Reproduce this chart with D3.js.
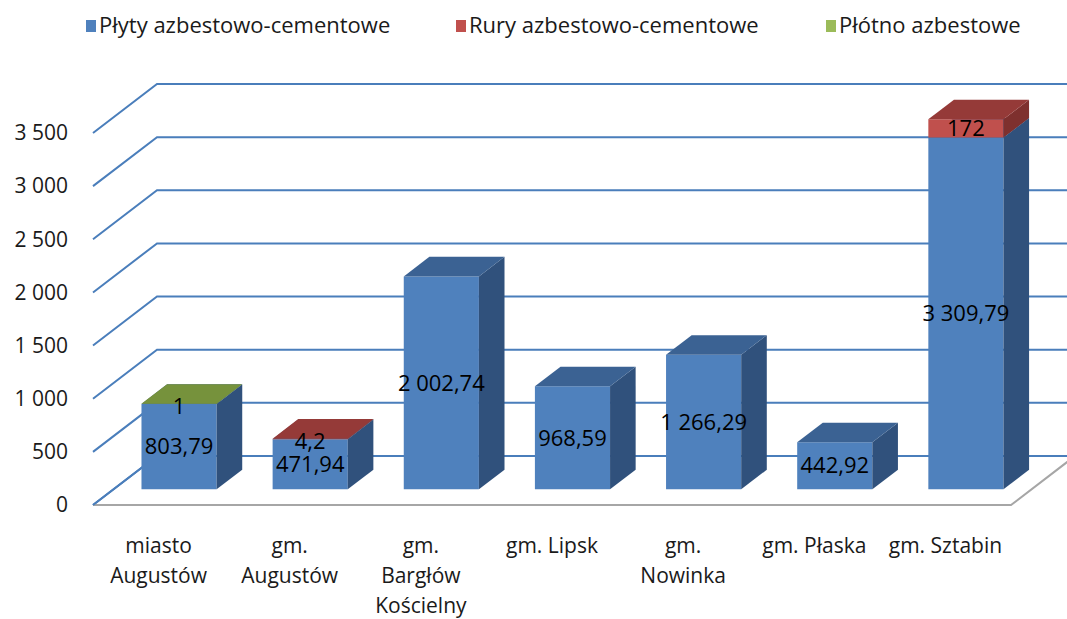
<!DOCTYPE html>
<meta charset="utf-8">
<title>Azbest - gminy</title>
<style>
  body { margin: 0; background: #fff; }
  svg { display: block; font-family: "Open Sans", sans-serif; }
  .grid { stroke: #4a7ebb; stroke-width: 2px; fill: none; }
  .floor { stroke: #a6a6a6; stroke-width: 2px; fill: none; }
  .tick { font-size: 21px; fill: #1a1a1a; }
  .cat { font-size: 21px; fill: #1a1a1a; }
  .lbl { font-size: 22px; fill: #000; }
  .legend text { font-size: 22px; fill: #1a1a1a; }
</style>
<body>
<svg width="1067" height="619"></svg>
<script src="https://d3js.org/d3.v7.min.js"></script>
<script>

// categories (\n = line break in axis label)
var categories = ["miasto\nAugustów", "gm.\nAugustów", "gm.\nBargłów\nKościelny", "gm. Lipsk", "gm.\nNowinka", "gm. Płaska", "gm. Sztabin"];
var seriesNames = ["Płyty azbestowo-cementowe", "Rury azbestowo-cementowe", "Płótno azbestowe"];
var plyty = [803.79, 471.94, 2002.74, 968.59, 1266.29, 442.92, 3309.79];
var rury = [0, 4.2, 0, 0, 0, 0, 172];
var plotno = [1, 0, 0, 0, 0, 0, 0];
var yTicks = [0, 500, 1000, 1500, 2000, 2500, 3000, 3500];

// front / side / top colours per series
var colFront = ["#4f81bd", "#c0504d", "#9bbb59"];
var colSide = ["#30517c", "#7e302e", "#5f7632"];
var colTop = ["#3b6293", "#953a38", "#76923c"];

var svg = d3.select("svg");

var pl = d3.formatLocale({decimal: ",", thousands: " ", grouping: [3], currency: ["", ""]});
var fmtLbl = pl.format(",.2~f");
var fmtTick = pl.format(",d");

// oblique 3D: depth 0 = front edge of floor, 1 = back wall
var DX = 64, DY = 49;

var x = d3.scaleBand()
  .domain(categories)
  .range([93, 1011])
  .paddingInner(0.427)
  .paddingOuter(0.2135);

var y = d3.scaleLinear()
  .domain([0, 3500])
  .range([505, 133]);

// gridlines: diagonal on the left wall then along the back wall
svg.append("g").selectAll("path")
  .data(yTicks)
  .enter().append("path")
  .attr("class", "grid")
  .attr("d", function (v) {
    var y0 = y(v);
    return "M" + x.range()[0] + "," + y0 + "L" + (x.range()[0] + DX) + "," + (y0 - DY) +
      "L" + (x.range()[1] + DX) + "," + (y0 - DY);
  });

// floor front edge and right edge
var yf = y(0);
svg.append("path")
  .attr("class", "floor")
  .attr("d", "M" + x.range()[0] + "," + yf + "L" + x.range()[1] + "," + yf +
    "L" + (x.range()[1] + DX) + "," + (yf - DY));
svg.append("path")
  .attr("class", "grid")
  .attr("d", "M" + x.range()[0] + "," + yf + "L" + (x.range()[0] + DX) + "," + (yf - DY));

// y axis labels
svg.append("g").selectAll("text")
  .data(yTicks)
  .enter().append("text")
  .attr("class", "tick")
  .attr("x", 68)
  .attr("y", function (v) { return y(v); })
  .attr("dy", "0.35em")
  .attr("text-anchor", "end")
  .text(function (v) { return fmtTick(v); });

// stacked data
var stack = d3.stack().keys([0, 1, 2]);
var rows = categories.map(function (c, i) { return {cat: c, 0: plyty[i], 1: rury[i], 2: plotno[i]}; });
var layers = stack(rows);

var f0 = 0.32, f1 = 0.72;
var ox = DX * f0, oy = DY * f0;
var bdx = DX * (f1 - f0), bdy = DY * (f1 - f0);

function poly(pts) { return pts.map(function (p) { return p.join(","); }).join(" "); }

var bars = svg.append("g");
var labels = svg.append("g");

categories.forEach(function (c, i) {
  var xl = x(c) + ox, xr = xl + x.bandwidth();
  layers.forEach(function (layer, k) {
    var d = layer[i];
    if (d[1] - d[0] <= 0) return;
    var yb = y(d[0]) - oy, yt = y(d[1]) - oy;
    var g = bars.append("g");
    g.append("polygon").attr("points", poly([[xl, yb], [xr, yb], [xr, yt], [xl, yt]]))
      .attr("fill", colFront[k]);
    g.append("polygon").attr("points", poly([[xr, yb], [xr, yt], [xr + bdx, yt - bdy], [xr + bdx, yb - bdy]]))
      .attr("fill", colSide[k]);
    g.append("polygon").attr("points", poly([[xl, yt], [xr, yt], [xr + bdx, yt - bdy], [xl + bdx, yt - bdy]]))
      .attr("fill", colTop[k]);
    labels.append("text")
      .attr("class", "lbl")
      .attr("x", (xl + xr) / 2)
      .attr("y", (yb + yt) / 2 + (yb - yt < 5 ? 2 : 0))
      .attr("dy", "0.35em")
      .attr("text-anchor", "middle")
      .text(fmtLbl(d[1] - d[0]));
  });
});

// category labels
var cat = svg.append("g").selectAll("text")
  .data(categories)
  .enter().append("text")
  .attr("class", "cat")
  .attr("text-anchor", "middle")
  .attr("transform", function (c) { return "translate(" + (x(c) + x.bandwidth() / 2) + ",553)"; });
cat.selectAll("tspan")
  .data(function (c) { return c.split("\n"); })
  .enter().append("tspan")
  .attr("x", 0)
  .attr("y", function (t, j) { return j * 30; })
  .text(function (t) { return t; });

// legend
var legX = [86, 456, 826];
var leg = svg.append("g").attr("class", "legend").selectAll("g")
  .data(seriesNames)
  .enter().append("g")
  .attr("transform", function (s, k) { return "translate(" + legX[k] + ",0)"; });
leg.append("rect").attr("x", 0).attr("y", 20).attr("width", 10).attr("height", 12)
  .attr("fill", function (s, k) { return colFront[k]; });
leg.append("text").attr("x", 13).attr("y", 33).text(function (s) { return s; });

</script>
</body>
